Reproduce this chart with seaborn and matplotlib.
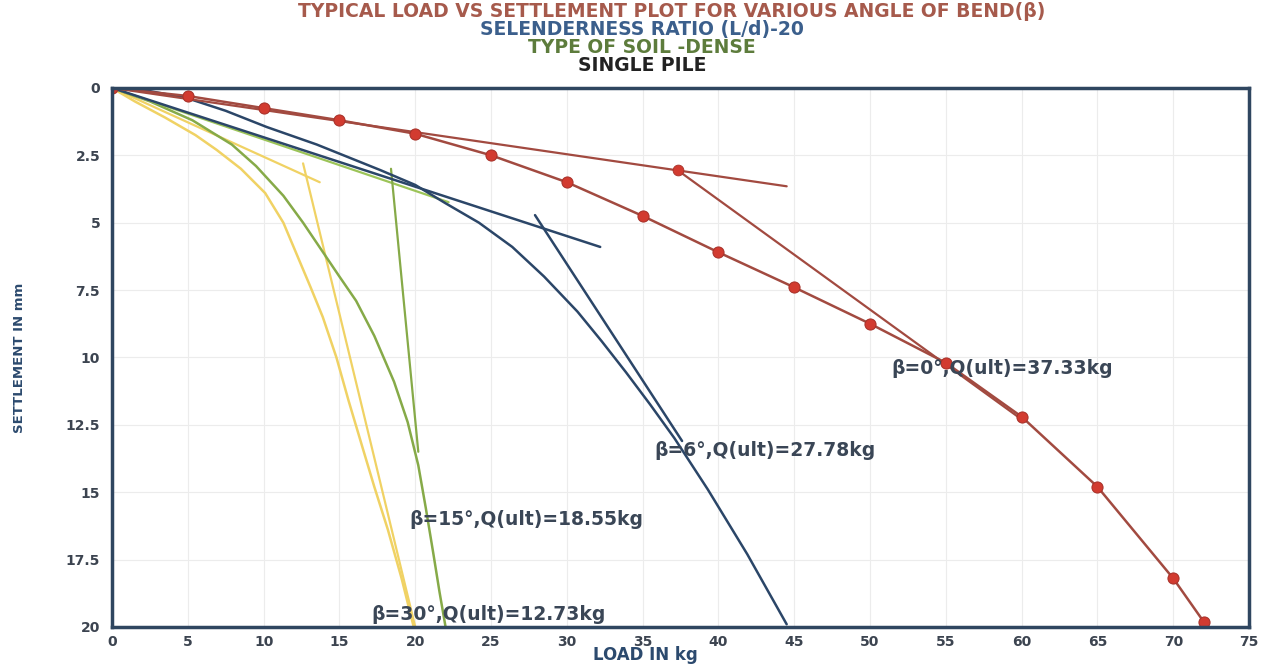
import pandas as pd
import seaborn as sns
import matplotlib.pyplot as plt
import numpy as np

# load (kg) vs settlement (mm)
load_b0 = [0, 5, 10, 15, 20, 25, 30, 35, 40, 45, 50, 55, 60, 65, 70, 72]
settle_b0 = [0, 0.3, 0.75, 1.2, 1.7, 2.5, 3.5, 4.75, 6.1, 7.4, 8.75, 10.2, 12.2, 14.8, 18.2, 19.8]

load_b6 = [0, 2.5, 4.9, 7.5, 10.2, 13.5, 17.7, 20.0, 22.0, 24.2, 26.4, 28.5, 30.7,
           32.3, 33.9, 35.5, 37.1, 39.3, 41.9, 43.2, 44.5]
settle_b6 = [0, 0.12, 0.37, 0.85, 1.45, 2.1, 3.05, 3.6, 4.28, 5.0, 5.9, 7.0, 8.3,
             9.4, 10.55, 11.75, 13.0, 14.9, 17.3, 18.6, 19.9]

load_b15 = [0, 2.5, 5.3, 7.9, 9.5, 11.3, 12.6, 13.8, 15.0, 16.1, 17.3, 18.6, 19.5,
            20.2, 20.7, 21.2, 21.6, 22.0]
settle_b15 = [0, 0.5, 1.2, 2.1, 2.9, 4.0, 5.0, 6.0, 7.0, 7.9, 9.2, 10.9, 12.4,
              14.0, 15.6, 17.3, 18.7, 20.0]

load_b30 = [0, 1.5, 3.5, 5.5, 6.9, 8.5, 10.1, 11.3, 12.2, 13.1, 13.9, 14.8, 15.6,
            16.5, 17.3, 18.2, 19.1, 19.9]
settle_b30 = [0, 0.5, 1.1, 1.75, 2.3, 3.0, 3.9, 5.0, 6.2, 7.4, 8.5, 10.0, 11.6,
              13.3, 14.8, 16.4, 18.2, 20.0]

# tangent lines (start, end) used to find Q(ult)
tan_b0 = {'first': ([0, 44.5], [0, 3.65]), 'second': ([37.3, 60.0], [3.05, 12.3])}
tan_b6 = {'first': ([0, 32.2], [0, 5.9]), 'second': ([27.9, 37.6], [4.72, 13.1])}
tan_b15 = {'first': ([0, 22.2], [0, 4.24]), 'second': ([18.4, 20.2], [3.0, 13.5])}
tan_b30 = {'first': ([0, 13.7], [0, 3.5]), 'second': ([12.6, 20.0], [2.8, 20.0])}

labels = ['β=0°,Q(ult)=37.33kg', 'β=6°,Q(ult)=27.78kg',
          'β=15°,Q(ult)=18.55kg', 'β=30°,Q(ult)=12.73kg']
label_pos = [(51.4, 10.4), (35.8, 13.45), (19.6, 16.0), (17.1, 19.55)]

titles = ['TYPICAL LOAD VS SETTLEMENT PLOT FOR VARIOUS ANGLE OF BEND(β)',
          'SELENDERNESS RATIO (L/d)-20', 'TYPE OF SOIL -DENSE', 'SINGLE PILE']
title_colors = ['#a65a4c', '#3b5f8c', '#5d7c3c', '#222222']

red_line = '#a24a40'
red_dot = '#d23b30'
blue = '#2b4668'
green = '#86aa48'
green_lt = '#9cc458'
yellow = '#f0d264'
text_col = '#3a4656'

sns.set_style('whitegrid', {'grid.color': '#ececec'})
plt.rcParams['font.family'] = ['DejaVu Sans']

fig = plt.figure(figsize=(12.79, 6.66), dpi=100)
ax = fig.add_axes([0.0876, 0.0586, 0.889, 0.8094])


def draw(x, y, color, lw=1.8, **kw):
    df = pd.DataFrame({'load': x, 'settle': y})
    sns.lineplot(data=df, x='load', y='settle', color=color, lw=lw,
                 sort=False, estimator=None, ax=ax, **kw)


# beta = 30
draw(load_b30, settle_b30, yellow)
draw(*tan_b30['first'], yellow, lw=1.6)
draw(*tan_b30['second'], yellow, lw=1.6)
# beta = 15
draw(load_b15, settle_b15, green)
draw(*tan_b15['first'], green_lt, lw=1.6)
draw(*tan_b15['second'], green, lw=1.6)
# beta = 6
draw(load_b6, settle_b6, blue)
draw(*tan_b6['first'], blue)
draw(*tan_b6['second'], blue)
# beta = 0
draw(*tan_b0['first'], red_line, lw=1.6)
draw(*tan_b0['second'], red_line, lw=1.6)
draw(load_b0, settle_b0, red_line, marker='o', markersize=8,
     markerfacecolor=red_dot, markeredgecolor='#a8322a')
sns.scatterplot(x=[tan_b0['second'][0][0]], y=[tan_b0['second'][1][0]],
                color=red_dot, s=60, edgecolor='#a8322a', ax=ax, zorder=5)

for txt, (px, py) in zip(labels, label_pos):
    ax.text(px, py, txt, fontsize=13.5, fontweight='bold', color=text_col,
            va='center', ha='left')

ax.set_xlim(0, 75)
ax.set_ylim(20, 0)
ax.set_xticks(np.arange(0, 76, 5))
ax.set_yticks(np.arange(0, 20.1, 2.5))
ax.set_yticklabels(['0', '2.5', '5', '7.5', '10', '12.5', '15', '17.5', '20'])
ax.tick_params(labelsize=10, colors='#3c4450', pad=2)
ax.tick_params(axis='y', pad=5)
for lab in ax.get_xticklabels() + ax.get_yticklabels():
    lab.set_fontweight('bold')

for sp in ax.spines.values():
    sp.set_color('#2f4660')
    sp.set_linewidth(2.5)

ax.set_xlabel('LOAD IN kg', fontsize=12, fontweight='bold', color='#2c4a6e')
ax.xaxis.set_label_coords(0.469, -0.036)
ax.set_ylabel('SETTLEMENT IN mm', fontsize=9.5, fontweight='bold', color='#2c4a6e')
ax.yaxis.set_label_coords(-0.076, 0.5)

title_x = [0.525, 0.502, 0.502, 0.502]
title_y = [0.982, 0.955, 0.9287, 0.9024]
for t, c, tx, ty in zip(titles, title_colors, title_x, title_y):
    fig.text(tx, ty, t, ha='center', va='center', fontsize=13.5,
             fontweight='bold', color=c)

fig.savefig('out.png', dpi=100)
